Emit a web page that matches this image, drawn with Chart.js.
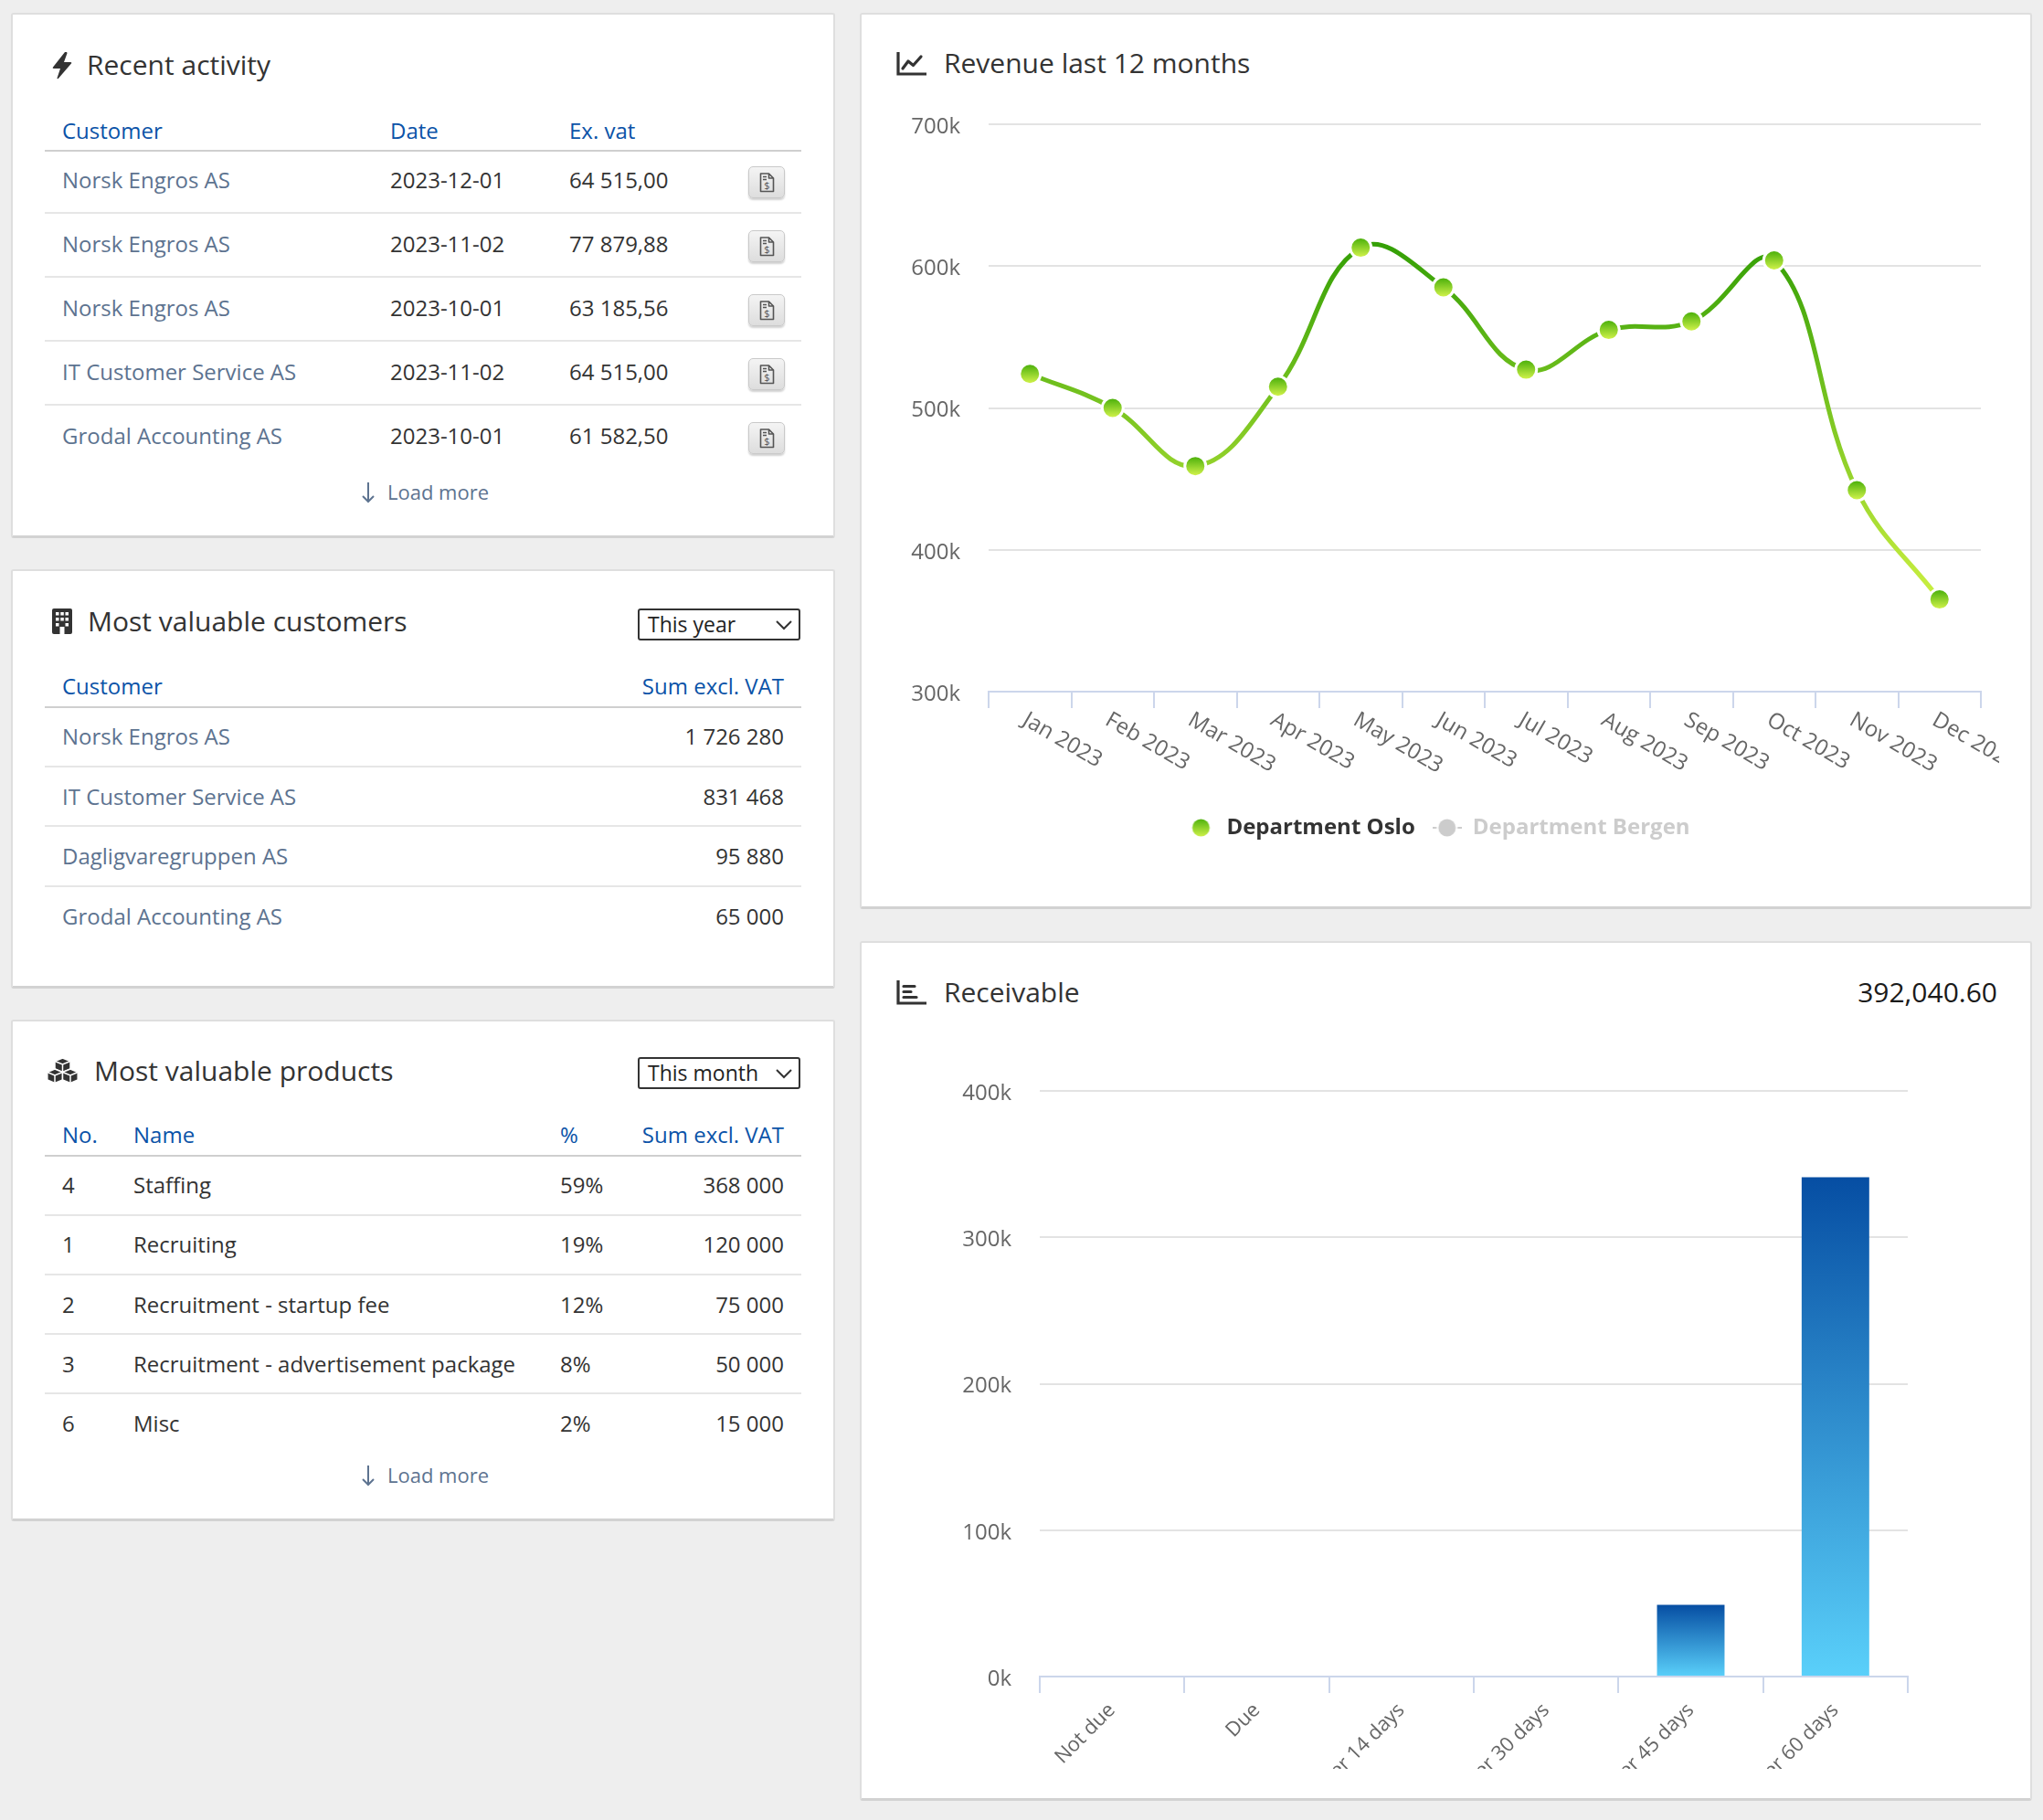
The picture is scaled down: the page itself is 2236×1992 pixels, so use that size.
<!DOCTYPE html>
<html>
<head>
<meta charset="utf-8">
<script src="https://cdn.jsdelivr.net/npm/chart.js@4.4.0/dist/chart.umd.min.js"></script>
<style>
  body { margin: 0; width: 2236px; height: 1992px; background: #eeeeee; font-family: 'Open Sans', sans-serif; position: relative; overflow: hidden; }
  .panel { position: absolute; background: #fff; border: 2px solid #dedede; border-bottom-width: 3px; border-bottom-color: #d2d2d2; border-radius: 3px; box-sizing: border-box; }
  .t { position: absolute; white-space: nowrap; height: 40px; line-height: 40px; }
  .line { position: absolute; height: 2px; }
  .btn { position: absolute; width: 40px; height: 35px; box-sizing: border-box; border: 1px solid #c9c9c9; border-radius: 5px; background: linear-gradient(#f4f4f4, #dddddd); box-shadow: 0 2px 2px rgba(0,0,0,0.18); }
  .btn svg { position: absolute; left: 11px; top: 6px; }
  .select { position: absolute; width: 178px; height: 35px; box-sizing: border-box; border: 2px solid #333; border-radius: 3px; font-size: 23px; line-height: 30px; padding-left: 9px; color: #222; }
  .select svg { position: absolute; right: 7px; top: 11px; }
  svg.ic { position: absolute; }
  canvas { position: absolute; }
</style>
</head>
<body>

<div class="panel" style="left:12px;top:14px;width:902px;height:575px"></div>
<div class="panel" style="left:12px;top:623px;width:902px;height:459px"></div>
<div class="panel" style="left:12px;top:1116px;width:902px;height:549px"></div>
<div class="panel" style="left:941px;top:14px;width:1283px;height:981px"></div>
<div class="panel" style="left:941px;top:1030px;width:1283px;height:941px"></div>

<!-- icons -->
<svg class="ic" style="left:56px;top:57px" width="24" height="30" viewBox="0 0 24 30">
  <path d="M15 0 L2 16.5 Q1 18 3 18 H10 L6.5 28.5 Q6.5 30 8 28.8 L22 12.5 Q23 11 21 11 H14 L17.5 1.2 Q17.5 -0.6 15 0 Z" fill="#333"/>
</svg>
<svg class="ic" style="left:57px;top:666px" width="22" height="28" viewBox="0 0 22 28">
  <rect x="0" y="0" width="22" height="28" rx="2" fill="#333"/>
  <g fill="#fff">
    <rect x="4" y="4" width="3.5" height="3.5"/><rect x="9.3" y="4" width="3.5" height="3.5"/><rect x="14.5" y="4" width="3.5" height="3.5"/>
    <rect x="4" y="10" width="3.5" height="3.5"/><rect x="9.3" y="10" width="3.5" height="3.5"/><rect x="14.5" y="10" width="3.5" height="3.5"/>
    <rect x="4" y="16" width="3.5" height="3.5"/><rect x="14.5" y="16" width="3.5" height="3.5"/>
    <rect x="8.5" y="20" width="5" height="8"/>
  </g>
</svg>
<svg class="ic" style="left:51px;top:1157px" width="35" height="29" viewBox="0 0 35 29">
  <g fill="#333" stroke="#fff" stroke-width="1.5">
    <path d="M17.5 1 L26 4.5 V13 L17.5 16.5 L9 13 V4.5 Z"/>
    <path d="M9 13 L17.5 16.5 V25 L9 28.5 L0.8 25 V16.5 Z"/>
    <path d="M26 13 L34.2 16.5 V25 L26 28.5 L17.5 25 V16.5 Z"/>
  </g>
  <g stroke="#fff" stroke-width="1.5" fill="none">
    <path d="M9 4.5 L17.5 8 L26 4.5 M17.5 8 V16.5"/>
    <path d="M0.8 16.5 L9 20 L17.5 16.5 M9 20 V28.5"/>
    <path d="M17.5 16.5 L26 20 L34.2 16.5 M26 20 V28.5"/>
  </g>
</svg>
<svg class="ic" style="left:981px;top:57px" width="33" height="26" viewBox="0 0 33 26">
  <path d="M2 0 V24 H33" stroke="#333" stroke-width="3.2" fill="none"/>
  <path d="M7 18 L13 10 L18.5 14.5 L27 5" stroke="#333" stroke-width="3.2" fill="none" stroke-linejoin="round" stroke-linecap="round"/>
</svg>
<svg class="ic" style="left:981px;top:1073px" width="33" height="27" viewBox="0 0 33 27">
  <path d="M2 0 V25 H33" stroke="#333" stroke-width="3.2" fill="none"/>
  <path d="M8 6.5 H20 M8 12.5 H16 M8 18.5 H22" stroke="#333" stroke-width="3.2" fill="none" stroke-linecap="round"/>
</svg>

<div class="select" style="left:698px;top:666px">This year<svg width="18" height="11" viewBox="0 0 18 11"><polyline points="1,1 9,9 17,1" fill="none" stroke="#333" stroke-width="2"/></svg></div>
<div class="select" style="left:698px;top:1157px">This month<svg width="18" height="11" viewBox="0 0 18 11"><polyline points="1,1 9,9 17,1" fill="none" stroke="#333" stroke-width="2"/></svg></div>

<canvas id="revenue" width="1218" height="818" style="left:970px;top:110px;width:1218px;height:818px"></canvas>
<canvas id="receivable" width="1200" height="776" style="left:1000px;top:1160px;width:1200px;height:776px"></canvas>

<script>
// ---- table content ----
const recentCustomers = ['Norsk Engros AS', 'Norsk Engros AS', 'Norsk Engros AS', 'IT Customer Service AS', 'Grodal Accounting AS'];
const recentDates = ['2023-12-01', '2023-11-02', '2023-10-01', '2023-11-02', '2023-10-01'];
const recentAmounts = ['64 515,00', '77 879,88', '63 185,56', '64 515,00', '61 582,50'];

const topCustomers = ['Norsk Engros AS', 'IT Customer Service AS', 'Dagligvaregruppen AS', 'Grodal Accounting AS'];
const topCustomerSums = ['1 726 280', '831 468', '95 880', '65 000'];

const productNos = ['4', '1', '2', '3', '6'];
const productNames = ['Staffing', 'Recruiting', 'Recruitment - startup fee', 'Recruitment - advertisement package', 'Misc'];
const productShares = ['59%', '19%', '12%', '8%', '2%'];
const productSums = ['368 000', '120 000', '75 000', '50 000', '15 000'];

// ---- chart data ----
const monthLabels = ['Jan 2023', 'Feb 2023', 'Mar 2023', 'Apr 2023', 'May 2023', 'Jun 2023',
                     'Jul 2023', 'Aug 2023', 'Sep 2023', 'Oct 2023', 'Nov 2023', 'Dec 2023'];
const osloRevenue = [524000, 500000, 459000, 515000, 613000, 585000, 527000, 555000, 561000, 604000, 442000, 365000];
const bergenRevenue = []; // series is switched off in the legend, nothing drawn

const agingLabels = ['Not due', 'Due', 'Over 14 days', 'Over 30 days', 'Over 45 days', 'Over 60 days'];
const agingValues = [0, 0, 0, 0, 49000, 341000];
const receivableTotal = '392,040.60';

const BLUE = '#0b53a8', SLATE = '#5d7390', DARK = '#333';

function put(x, cy, str, o = {}) {
  const d = document.createElement('div');
  d.className = 't';
  d.textContent = str;
  d.style.fontSize = (o.size || 24) + 'px';
  d.style.color = o.color || DARK;
  d.style.top = (cy - 20) + 'px';
  if (o.align === 'right') {
    d.style.left = (x - 800) + 'px';
    d.style.width = '800px';
    d.style.textAlign = 'right';
  } else {
    d.style.left = x + 'px';
  }
  document.body.appendChild(d);
}
function hline(y, color) {
  const d = document.createElement('div');
  d.className = 'line';
  d.style.left = '49px';
  d.style.width = '828px';
  d.style.top = (y - 1) + 'px';
  d.style.background = color;
  document.body.appendChild(d);
}
function loadMore(cy) {
  const s = document.createElementNS('http://www.w3.org/2000/svg', 'svg');
  s.setAttribute('width', '16'); s.setAttribute('height', '24');
  s.setAttribute('class', 'ic');
  s.style.left = '395px'; s.style.top = (cy - 11) + 'px';
  s.innerHTML = '<path d="M8 1 V22 M2 16 L8 22 L14 16" stroke="' + SLATE + '" stroke-width="2" fill="none"/>';
  document.body.appendChild(s);
  put(424, cy, 'Load more', { color: SLATE, size: 22 });
}
function docButton(cy) {
  const b = document.createElement('div');
  b.className = 'btn';
  b.style.left = '819px';
  b.style.top = (cy - 15) + 'px';
  b.innerHTML = '<svg width="17" height="22" viewBox="0 0 17 22"><path d="M1.5 1 H10.5 L15.5 6 V20.5 H1.5 Z M10.5 1 V6 H15.5" stroke="#555" stroke-width="1.6" fill="none" stroke-linejoin="round"/>' +
    '<path d="M4 4.5 H8 M4 7.5 H8" stroke="#555" stroke-width="1.4"/>' +
    '<text x="8.5" y="18" font-size="11" text-anchor="middle" fill="#555" font-family="Open Sans">$</text></svg>';
  document.body.appendChild(b);
}

// Recent activity
put(95, 71, 'Recent activity', { size: 30 });
put(68, 143, 'Customer', { color: BLUE });
put(427, 143, 'Date', { color: BLUE });
put(623, 143, 'Ex. vat', { color: BLUE });
hline(165, '#cfcfcf');
recentCustomers.forEach((c, i) => {
  const cy = 197 + 70 * i;
  put(68, cy, c, { color: SLATE });
  put(427, cy, recentDates[i]);
  put(623, cy, recentAmounts[i]);
  docButton(cy);
  if (i < recentCustomers.length - 1) hline(233 + 70 * i, '#e6e6e6');
});
loadMore(538);

// Most valuable customers
put(96, 680, 'Most valuable customers', { size: 30 });
put(68, 751, 'Customer', { color: BLUE });
put(858, 751, 'Sum excl. VAT', { color: BLUE, align: 'right' });
hline(774, '#cfcfcf');
topCustomers.forEach((c, i) => {
  const cy = 806 + 65.5 * i;
  put(68, cy, c, { color: SLATE });
  put(858, cy, topCustomerSums[i], { align: 'right' });
  if (i < topCustomers.length - 1) hline(838.5 + 65.5 * i, '#e6e6e6');
});

// Most valuable products
put(103, 1172, 'Most valuable products', { size: 30 });
put(68, 1242, 'No.', { color: BLUE });
put(146, 1242, 'Name', { color: BLUE });
put(613, 1242, '%', { color: BLUE });
put(858, 1242, 'Sum excl. VAT', { color: BLUE, align: 'right' });
hline(1265, '#cfcfcf');
productNames.forEach((n, i) => {
  const cy = 1297 + 65.3 * i;
  put(68, cy, productNos[i]);
  put(146, cy, n);
  put(613, cy, productShares[i]);
  put(858, cy, productSums[i], { align: 'right' });
  if (i < productNames.length - 1) hline(1329.5 + 65.3 * i, '#e6e6e6');
});
loadMore(1614);

// chart panel headings
put(1033, 69, 'Revenue last 12 months', { size: 30 });
put(1033, 1086, 'Receivable', { size: 30 });
put(2186, 1086, receivableTotal, { size: 30, align: 'right', color: '#1a1a1a' });

// ---- charts ----
Chart.defaults.font.family = "'Open Sans', sans-serif";
Chart.defaults.color = '#666';

function legendDot(kind) {
  const c = document.createElement('canvas');
  c.width = 32; c.height = 22;
  const x = c.getContext('2d');
  if (kind === 'off') {
    x.strokeStyle = '#cccccc'; x.lineWidth = 2;
    x.beginPath(); x.moveTo(0, 11); x.lineTo(32, 11); x.stroke();
    x.fillStyle = '#fff';
    x.beginPath(); x.arc(16, 11, 11.5, 0, Math.PI * 2); x.fill();
    x.fillStyle = '#cccccc';
  } else {
    const g = x.createLinearGradient(0, 1, 0, 21);
    g.addColorStop(0, '#4db10c'); g.addColorStop(1, '#d0f24a');
    x.fillStyle = g;
  }
  x.beginPath(); x.arc(16, 11, 9.5, 0, Math.PI * 2); x.fill();
  return c;
}
const legendImgs = [legendDot('on'), legendDot('off')];

function lineGradient(ctx) {
  const chart = ctx.chart;
  if (!chart.chartArea) return '#5cb811';
  const y = chart.scales.y;
  const g = chart.ctx.createLinearGradient(0, y.getPixelForValue(Math.max(...osloRevenue)), 0, y.getPixelForValue(Math.min(...osloRevenue)));
  g.addColorStop(0, '#35a006');
  g.addColorStop(1, '#cbf041');
  return g;
}
function pointGradient(ctx) {
  const chart = ctx.chart;
  if (!chart.chartArea || ctx.raw === undefined) return '#7ccc20';
  const py = chart.scales.y.getPixelForValue(ctx.raw);
  const g = chart.ctx.createLinearGradient(0, py - 10, 0, py + 10);
  g.addColorStop(0, '#4db10c');
  g.addColorStop(1, '#d0f24a');
  return g;
}

// month labels sloping down to the right, starting under each category
const slantLabels = {
  id: 'slantLabels',
  afterDraw(chart) {
    const xs = chart.scales.x, c = chart.ctx;
    c.save();
    c.font = "24px 'Open Sans'";
    c.fillStyle = '#666';
    c.textAlign = 'left';
    c.textBaseline = 'top';
    chart.data.labels.forEach((lab, i) => {
      c.save();
      c.translate(xs.getPixelForTick(i), xs.top + 19);
      c.rotate(30 * Math.PI / 180);
      c.fillText(lab, 0, 0);
      c.restore();
    });
    c.restore();
  }
};

// y labels sit 31px left of the plot; done with an invisible tick mark so the
// label padding does not also push the plot area down
const yTicks = { stepSize: 100000, padding: 0, labelOffset: 3, font: { size: 24 }, color: '#666', callback: v => v / 1000 + 'k' };
const yGrid = { color: '#e3e3e3', lineWidth: 2, drawTicks: true, tickLength: 31, tickColor: 'rgba(0,0,0,0)' };

new Chart(document.getElementById('revenue'), {
  type: 'line',
  data: {
    labels: monthLabels,
    datasets: [
      {
        label: 'Department Oslo',
        data: osloRevenue,
        borderColor: lineGradient,
        borderWidth: 5,
        tension: 0.4,
        pointRadius: 11.5,
        pointBorderWidth: 3,
        pointBorderColor: '#ffffff',
        pointBackgroundColor: pointGradient,
        fill: false
      },
      {
        label: 'Department Bergen',
        data: bergenRevenue,
        hidden: true,
        borderColor: '#cccccc'
      }
    ]
  },
  options: {
    responsive: false,
    animation: false,
    devicePixelRatio: 1,
    layout: { padding: { top: 26, right: 20, left: 10, bottom: 0 } },
    scales: {
      x: {
        offset: true,
        grid: { offset: true, drawOnChartArea: false, color: '#ccd6eb', lineWidth: 2, tickLength: 18 },
        border: { color: '#ccd6eb', width: 2 },
        ticks: { display: false },
        afterFit: s => { s.height = 118; }
      },
      y: {
        min: 300000,
        max: 700000,
        ticks: yTicks,
        grid: yGrid,
        border: { display: false },
        afterFit: s => { s.width = 102; }
      }
    },
    plugins: {
      tooltip: { enabled: false },
      legend: {
        position: 'bottom',
        labels: {
          usePointStyle: true,
          pointStyleWidth: 32,
          padding: 19,
          font: { size: 24, weight: 'bold' },
          generateLabels: chart => chart.data.datasets.map((ds, i) => ({
            text: ds.label,
            pointStyle: legendImgs[i],
            fontColor: ds.hidden ? '#cccccc' : '#333333',
            fillStyle: 'transparent',
            strokeStyle: 'transparent',
            lineWidth: 0,
            hidden: false,
            datasetIndex: i
          }))
        }
      }
    }
  },
  plugins: [slantLabels]
});

function barGradient(ctx) {
  const chart = ctx.chart;
  if (!chart.chartArea || !ctx.raw) return '#2a8ad0';
  const y = chart.scales.y;
  const g = chart.ctx.createLinearGradient(0, y.getPixelForValue(ctx.raw), 0, y.getPixelForValue(0));
  g.addColorStop(0, '#064ea3');
  g.addColorStop(1, '#5ad0fa');
  return g;
}

new Chart(document.getElementById('receivable'), {
  type: 'bar',
  data: {
    labels: agingLabels,
    datasets: [{
      label: 'Receivable',
      data: agingValues,
      backgroundColor: barGradient,
      borderWidth: 0,
      categoryPercentage: 1,
      barPercentage: 0.467
    }]
  },
  options: {
    responsive: false,
    animation: false,
    devicePixelRatio: 1,
    layout: { padding: { top: 34, right: 112, left: 0, bottom: 0 } },
    scales: {
      x: {
        grid: { offset: true, drawOnChartArea: false, color: '#ccd6eb', lineWidth: 2, tickLength: 18 },
        border: { color: '#ccd6eb', width: 2 },
        ticks: { minRotation: 45, maxRotation: 45, autoSkip: false, padding: 6, font: { size: 22 }, color: '#666' },
        afterFit: s => { s.height = 101; }
      },
      y: {
        min: 0,
        max: 400000,
        ticks: yTicks,
        grid: yGrid,
        border: { display: false },
        afterFit: s => { s.width = 138; }
      }
    },
    plugins: {
      legend: { display: false },
      tooltip: { enabled: false }
    }
  }
});
</script>
</body>
</html>
